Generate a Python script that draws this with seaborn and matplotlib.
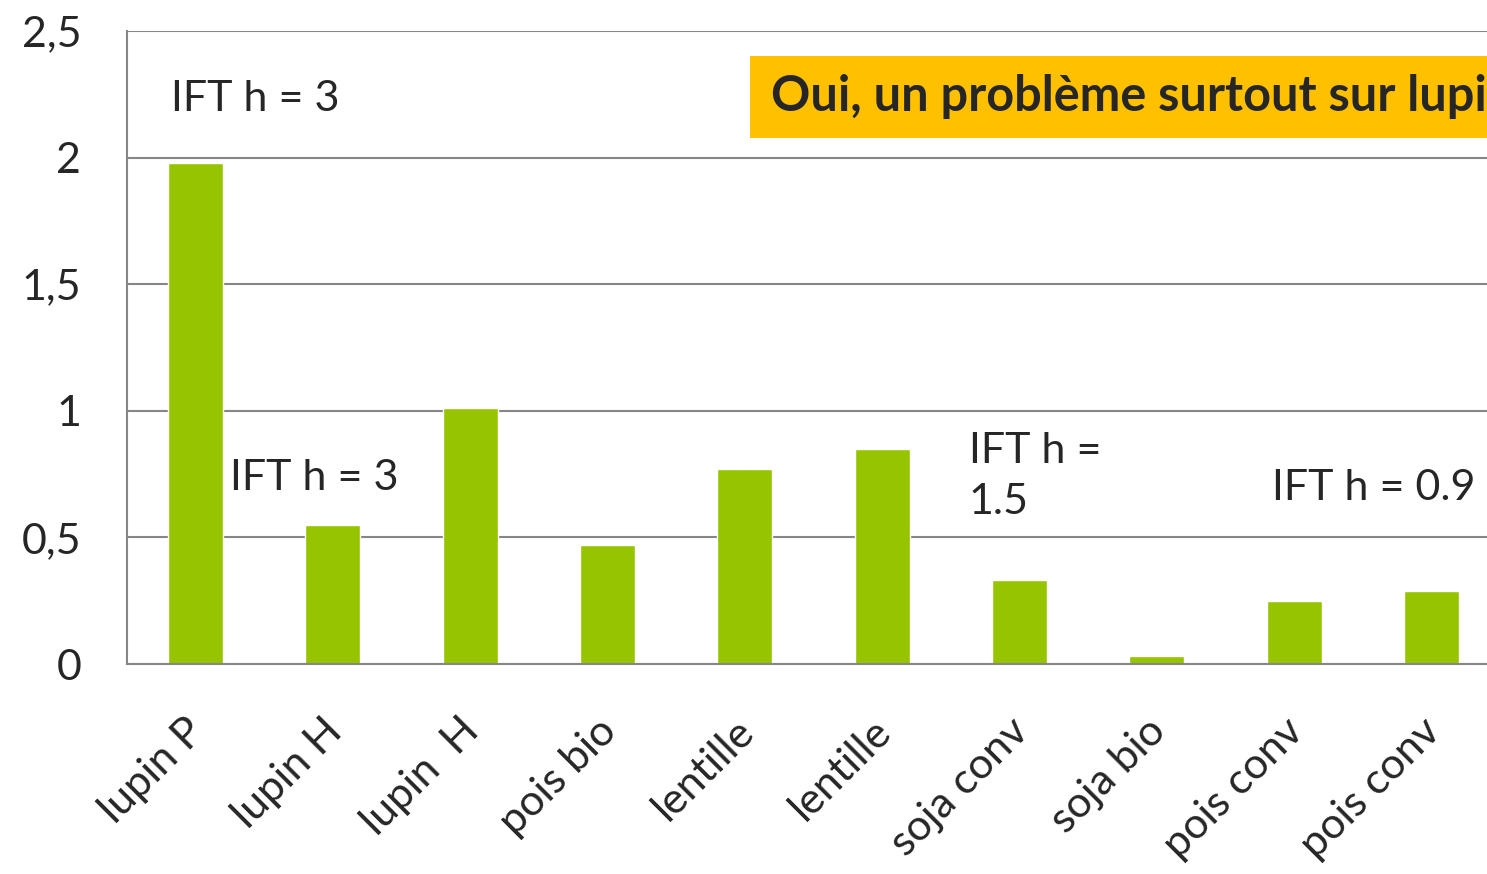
import matplotlib
matplotlib.use('Agg')
import matplotlib.pyplot as plt
import matplotlib.ticker as mticker
import matplotlib.transforms as mtransforms
from matplotlib.patches import Rectangle
import seaborn as sns

labels = ['lupin P', 'lupin H', 'lupin  H', 'pois bio', 'lentille',
          'lentille', 'soja conv', 'soja bio', 'pois conv', 'pois conv']
values = [1.98, 0.55, 1.01, 0.47, 0.77, 0.85, 0.33, 0.03, 0.25, 0.29]
positions = list(range(len(labels)))

sns.set_style('white')
plt.rcParams['font.family'] = ['Lato', 'DejaVu Sans']

grey = '#868686'
green = '#96C400'
fs = 31

fig = plt.figure(figsize=(14.87, 8.74), dpi=100)
ax = fig.add_axes([127 / 1487, 210 / 874, 1373 / 1487, 633 / 874])

sns.barplot(x=positions, y=values, color=green, saturation=1,
            width=0.4, ax=ax)

ax.set_xlim(-0.5, 9.5)
ax.set_ylim(0, 2.5)
ax.set_yticks([0, 0.5, 1, 1.5, 2, 2.5])
ax.yaxis.set_major_formatter(
    mticker.FuncFormatter(lambda v, p: ('%g' % v).replace('.', ',')))
ax.set_xticks([i - 0.5 for i in positions], minor=False)
ax.set_xticklabels([])
ax.set_xticks(positions, minor=True)
ax.set_xticklabels(labels, minor=True, rotation=45, ha='right',
                   va='baseline', rotation_mode='anchor', fontsize=fs)
ax.tick_params(axis='x', which='minor', length=0, pad=50)
ax.tick_params(axis='x', which='major', length=11, width=1.5,
               color=grey, direction='out')
ax.tick_params(axis='y', length=11, width=1.5, color=grey,
               direction='out', labelsize=fs, pad=22)

# nudge the rotated labels a little to the right, like the original
shift = mtransforms.ScaledTranslation(8 / 72, 0, fig.dpi_scale_trans)
for lab in ax.get_xticklabels(minor=True):
    lab.set_transform(lab.get_transform() + shift)

ax.grid(axis='y', color=grey, linewidth=1.5)
ax.set_axisbelow(True)
for s in ['top', 'right']:
    ax.spines[s].set_visible(False)
for s in ['left', 'bottom']:
    ax.spines[s].set_color(grey)
    ax.spines[s].set_linewidth(1.5)
ax.set_xlabel('')
ax.set_ylabel('')

ax.text(-0.18, 2.23, 'IFT h = 3', fontsize=fs, va='center', ha='left')
ax.text(0.25, 0.735, 'IFT h = 3', fontsize=fs, va='center', ha='left')
ax.text(5.63, 0.74, 'IFT h =\n1.5', fontsize=fs, va='center', ha='left',
        linespacing=1.4)
ax.text(7.84, 0.695, 'IFT h = 0.9', fontsize=fs, va='center', ha='left')

ax.add_patch(Rectangle((4.04, 2.077), 6.5, 0.323, facecolor='#FFC000',
                       edgecolor='none', clip_on=False, zorder=3))
ax.text(4.19, 2.24, 'Oui, un problème surtout sur lupin', fontsize=35,
        fontweight='bold', va='center', ha='left', zorder=4)

fig.savefig('out.png', dpi=100)
